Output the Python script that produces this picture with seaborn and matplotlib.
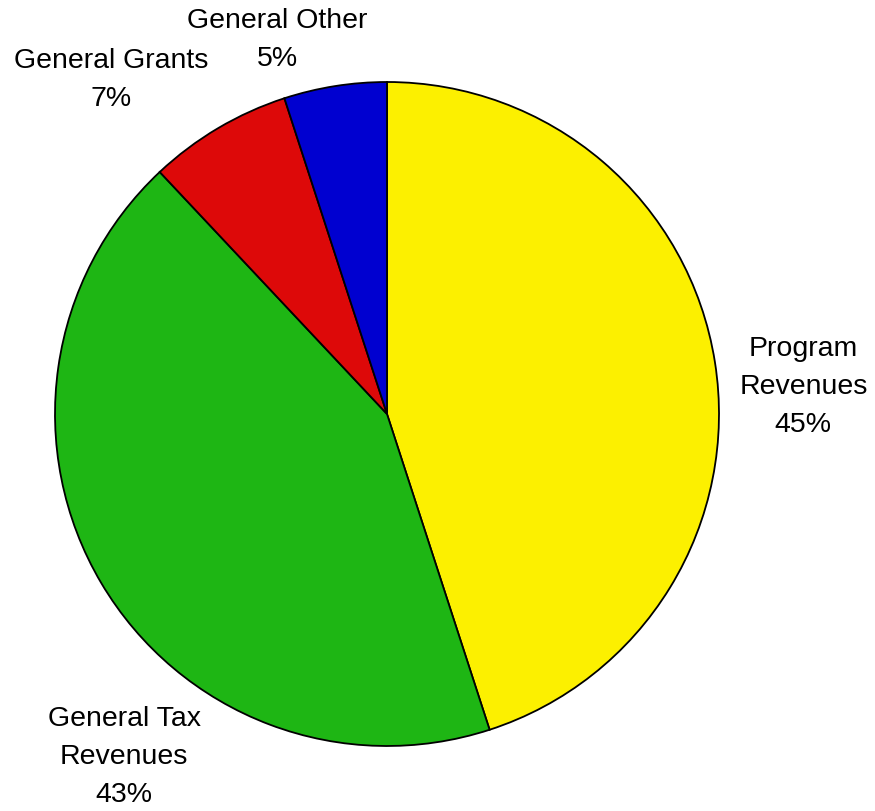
import matplotlib
matplotlib.use("Agg")
import matplotlib.pyplot as plt
import seaborn as sns

sns.set_theme(style="white")
plt.rcParams['font.family'] = ['Liberation Sans', 'DejaVu Sans']

categories = ["Program\nRevenues", "General Tax\nRevenues", "General Grants", "General Other"]
values = [45, 43, 7, 5]
colors = ["#FCF000", "#1EB614", "#DD0909", "#0000D0"]
# label anchor positions in axes-data units (pie radius = 1)
label_pos = [(1.254, 0.084), (-0.792, -1.03), (-0.831, 1.01), (-0.331, 1.13)]

fig = plt.figure(figsize=(8.75, 8.12), dpi=100)
W, H = 875, 812
cx, cy, r = 387, 415, 332
ax = fig.add_axes([(cx - r) / W, (H - cy - r) / H, 2 * r / W, 2 * r / H])

wedges, _ = ax.pie(values, colors=colors, startangle=90, counterclock=False,
                   radius=1.0,
                   wedgeprops=dict(edgecolor="black", linewidth=1.3))
ax.set_xlim(-1, 1)
ax.set_ylim(-1, 1)
ax.set_aspect("equal")
ax.axis("off")

for name, v, (x, y) in zip(categories, values, label_pos):
    ax.text(x, y, f"{name}\n{v}%", ha="center", va="center",
            fontsize=20.5, color="black", linespacing=1.6, clip_on=False)

fig.savefig("out.png", dpi=100, facecolor="white")
